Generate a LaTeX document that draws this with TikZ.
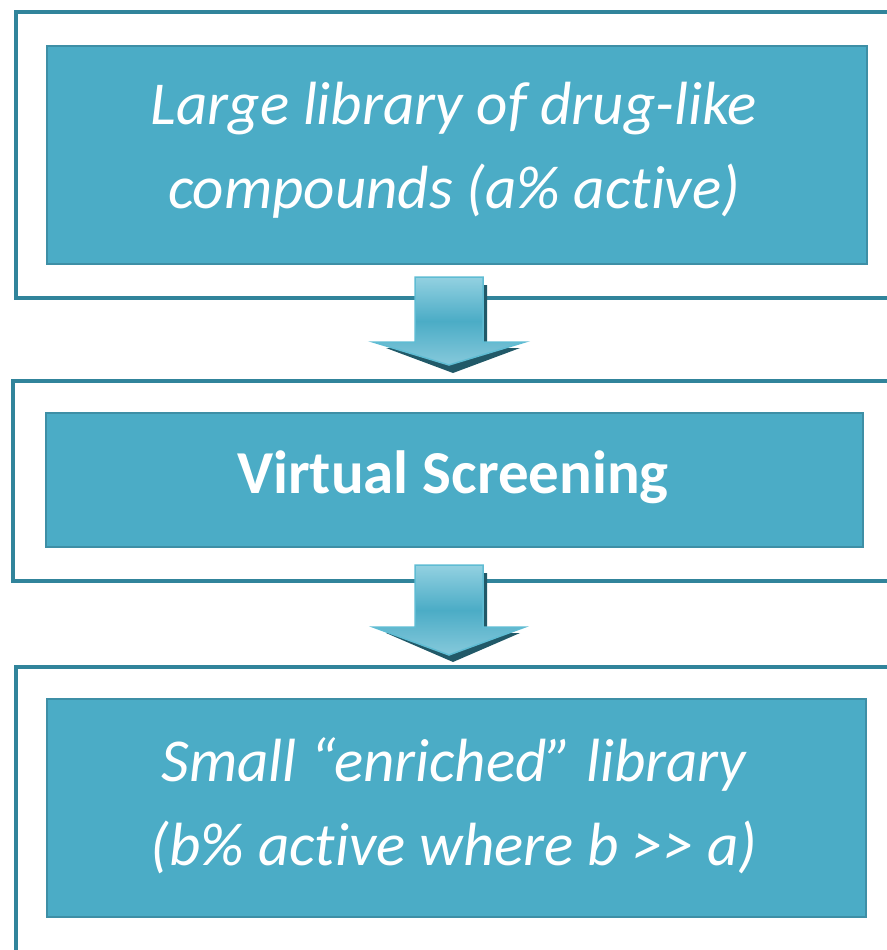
\documentclass[tikz,border=0pt]{standalone}
\usepackage{fontspec}
\setmainfont{Carlito}[Ligatures=NoCommon]
\usetikzlibrary{shadings}
\definecolor{boxfill}{HTML}{4BACC6}
\definecolor{boxline}{HTML}{3E8FA6}
\definecolor{frameline}{HTML}{31849B}
\definecolor{arrowtop}{HTML}{93D1E1}
\definecolor{arrowmid}{HTML}{4BACC6}
\definecolor{arrowbot}{HTML}{86C9DB}
\definecolor{arrowedge}{HTML}{5FBCD3}
\definecolor{arrowshadow}{HTML}{215968}
\tikzset{
  frame/.style={draw=frameline, line width=4pt, fill=white, rectangle, inner sep=0pt, anchor=north west},
  stepbox/.style={draw=boxline, line width=2.2pt, fill=boxfill, rectangle, inner sep=0pt, anchor=north west},
  steptext/.style={text=white, align=center, font=\fontsize{61}{84}\selectfont},
  blockarrow/.style={top color=arrowtop, bottom color=arrowbot, middle color=arrowmid, draw=arrowedge, line width=1.5pt, line join=miter},
  arrowshade/.style={fill=arrowshadow}
}
\begin{document}
\begin{tikzpicture}[x=1pt,y=-1pt]
\useasboundingbox (0,0) rectangle (886,950);
% outer frames
\node[frame, minimum width=900pt, minimum height=286pt] (f1) at (14,10) {};
\node[frame, minimum width=900pt, minimum height=200pt] (f2) at (11,379) {};
\node[frame, minimum width=900pt, minimum height=300pt] (f3) at (14,665) {};
% inner boxes
\node[stepbox, minimum width=820pt, minimum height=218pt] (b1) at (46,45) {};
\node[steptext, font=\fontsize{61}{84}\selectfont\itshape] (t1) at (454,150) {Large library of drug-like\\compounds (a\% active)};
\node[stepbox, minimum width=817pt, minimum height=134pt] (b2) at (45,412) {};
\node[steptext, font=\fontsize{61}{84}\selectfont\bfseries] (t2) at (453,477) {Virtual Screening};
\node[stepbox, minimum width=819pt, minimum height=218pt] (b3) at (46,698) {};
\node[steptext, font=\fontsize{61}{84}\selectfont\itshape] (t3) at (454,806) {Small “enriched” library\\(b\% active where b >{}> a)};
% arrow 1
\fill[arrowshade] (420,285) -- (487,285) -- (487,348) -- (520,348) -- (453,373) -- (386,348) -- (420,348) -- cycle;
\path[blockarrow] (415,277) -- (483,277) -- (483,342) -- (525,342) -- (449,365) -- (373,342) -- (415,342) -- cycle;
% arrow 2
\fill[arrowshade] (420,573) -- (487,573) -- (487,633) -- (520,633) -- (453,662) -- (386,633) -- (420,633) -- cycle;
\path[blockarrow] (415,565) -- (483,565) -- (483,627) -- (525,627) -- (449,655) -- (373,627) -- (415,627) -- cycle;
\end{tikzpicture}
\end{document}
